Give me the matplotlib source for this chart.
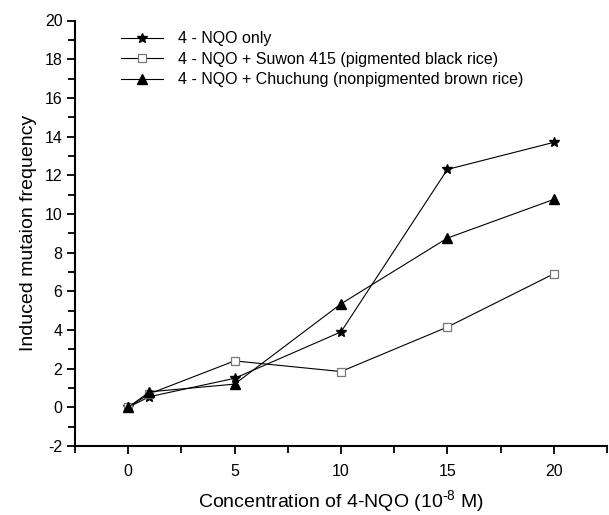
import matplotlib
matplotlib.use("Agg")
import matplotlib.pyplot as plt
from matplotlib.ticker import MultipleLocator

plt.rcParams['font.family'] = ['Liberation Sans', 'DejaVu Sans']
plt.rcParams['axes.unicode_minus'] = False
plt.rcParams['mathtext.fontset'] = 'custom'
plt.rcParams['mathtext.rm'] = 'Liberation Sans'

conc = [0, 1, 5, 10, 15, 20]
nqo_only = [0.0, 0.55, 1.5, 3.9, 12.3, 13.7]
suwon = [0.0, 0.7, 2.4, 1.85, 4.15, 6.9]
chuchung = [0.0, 0.8, 1.2, 5.35, 8.75, 10.75]

labels = ["4 - NQO only",
          "4 - NQO + Suwon 415 (pigmented black rice)",
          "4 - NQO + Chuchung (nonpigmented brown rice)"]

fig = plt.figure(figsize=(6.09, 5.15), dpi=100)
ax = fig.add_axes([75/609, 69/515, 532/609, 425.5/515])

ax.plot(conc, nqo_only, color='black', lw=0.8, marker='*', ms=7.5,
        mfc='black', mec='black', label=labels[0])
ax.plot(conc, suwon, color='black', lw=0.8, marker='s', ms=5.5,
        mfc='white', mec='#777777', mew=0.9, label=labels[1])
ax.plot(conc, chuchung, color='black', lw=0.8, marker='^', ms=7,
        mfc='black', mec='black', label=labels[2])

ax.set_xlim(-2.5, 22.5)
ax.set_ylim(-2, 20)
ax.xaxis.set_major_locator(MultipleLocator(5))
ax.xaxis.set_minor_locator(MultipleLocator(2.5))
ax.yaxis.set_major_locator(MultipleLocator(2))
ax.yaxis.set_minor_locator(MultipleLocator(1))

for s in ['top', 'right']:
    ax.spines[s].set_visible(False)
for s in ['left', 'bottom']:
    ax.spines[s].set_linewidth(1.5)

ax.tick_params(which='major', direction='out', length=6, width=1.3,
               labelsize=11.5)
ax.tick_params(axis='x', which='major', pad=7)
ax.tick_params(axis='y', which='major', pad=3)
ax.tick_params(which='minor', direction='out', length=5, width=1.3)

ax.set_xlabel("Concentration of 4-NQO (10$^{\\text{-}8}$ M)", fontsize=14)
ax.xaxis.set_label_coords(0.5, (446 - 502) / 425.5)
ax.xaxis.label.set_va('center')
ax.set_ylabel("Induced mutaion frequency", fontsize=14)
ax.yaxis.set_label_coords((29 - 75) / 532, 0.5)
ax.yaxis.label.set_va('center')

leg = ax.legend(loc='upper left', bbox_to_anchor=(0.075, 0.99), frameon=False,
                fontsize=11.5, handlelength=2.6, handletextpad=0.95,
                labelspacing=0.35, borderaxespad=0)

fig.savefig("out.png", dpi=100)
